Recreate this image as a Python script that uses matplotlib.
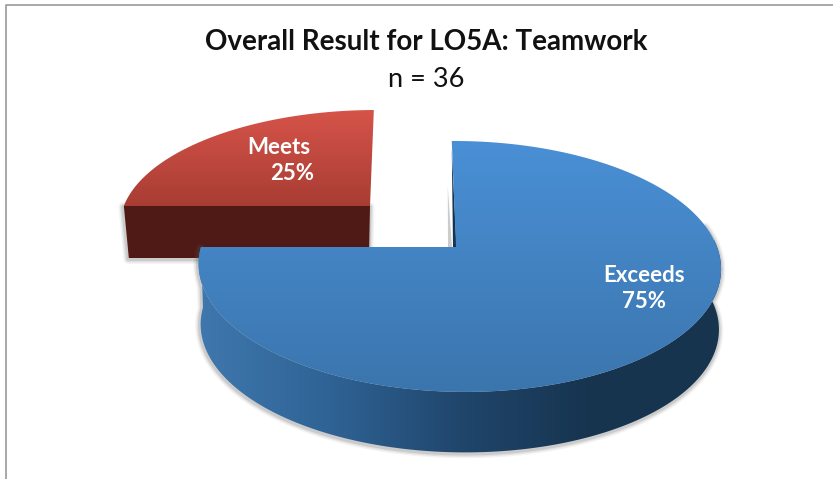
import numpy as np
import matplotlib
matplotlib.use('Agg')
import matplotlib.pyplot as plt
from matplotlib.colors import LinearSegmentedColormap
from matplotlib.patches import Polygon

labels = ['Exceeds', 'Meets']
shares = [75, 25]
title = 'Overall Result for LO5A: Teamwork'
subtitle = 'n = 36'

plt.rcParams['font.family'] = ['Lato', 'DejaVu Sans']


def rim(theta, cx, cy, k, h, shear, c=0.155, d=0.0115):
    # theta is clockwise from 12 o'clock, the plane is seen in perspective
    u, v = np.sin(theta), np.cos(theta)
    w = 1 + c * v - d * u
    y = -h * v / w
    return np.column_stack([cx + k * u / w + shear * y, cy + y])


def gradient(ax, patch, colors, box, vertical=True):
    cmap = LinearSegmentedColormap.from_list('g', colors)
    ramp = np.linspace(0, 1, 256)
    ramp = ramp.reshape(-1, 1) if vertical else ramp.reshape(1, -1)
    x0, x1, y0, y1 = box
    im = ax.imshow(ramp, cmap=cmap, extent=[x0, x1, y1, y0], aspect='auto',
                   zorder=patch.get_zorder(), origin='upper', interpolation='bilinear')
    im.set_clip_path(patch)


def soft_edge(ax, pts, z):
    for lw, a in [(7, 0.07), (5, 0.10), (3, 0.16)]:
        ax.add_patch(Polygon(pts + [-0.5, 1], closed=True, fill=False, edgecolor='#555555',
                             linewidth=lw, alpha=a, zorder=z, joinstyle='round'))


fig = plt.figure(figsize=(8.33, 4.79), dpi=100)
ax = fig.add_axes([0, 0, 1, 1])
ax.axis('off')

# frame of the pasted chart
ax.plot([6.5, 6.5, 833], [479, 5, 5], color='#9a9a9a', lw=1.2, zorder=1)

ang = np.cumsum([0] + shares) / sum(shares) * 2 * np.pi
blue_t = np.linspace(ang[0], ang[1], 240)
red_t = np.linspace(ang[1], ang[2], 80)

# red slice, pulled away from the pie
apex_r = np.array([370, 206])
red_rim = rim(red_t, apex_r[0], apex_r[1], 249, 96 * 1.155, -0.04)
red_left = red_rim[0]
wall = np.array([red_left, apex_r, apex_r + [-1, 52], red_left + [5, 52]])
soft_edge(ax, wall, 2)
ax.add_patch(Polygon(wall, closed=True, facecolor='#4f1a15', edgecolor='none', zorder=3))
red_face = Polygon(np.vstack([apex_r, red_rim]), closed=True, facecolor='none',
                   edgecolor='none', zorder=4)
ax.add_patch(red_face)
gradient(ax, red_face, ['#d7544a', '#a73c33'], (120, 380, 108, 208))

# blue slice
apex_b = np.array([456, 247])
blue_rim = rim(blue_t, apex_b[0], apex_b[1], 258, 106 * 1.155, 0.04)
front = (blue_t > np.radians(80)) & (blue_t <= np.radians(270))
top_front = blue_rim[front]
low_front = rim(blue_t[front], apex_b[0], apex_b[1] + 60.5, 258 * 0.992, 106 * 1.155, 0.04)
side = np.vstack([top_front, low_front[::-1]])
soft_edge(ax, side, 5)
side_patch = Polygon(side, closed=True, facecolor='none', edgecolor='none', zorder=6)
ax.add_patch(side_patch)
gradient(ax, side_patch, ['#3f78ae', '#2f6395', '#20466c', '#17344f', '#17344f'],
         (198, 722, 240, 456), vertical=False)

# thin cut wall next to the upper radius
top_pt = blue_rim[0]
ax.add_patch(Polygon([top_pt + [-4, 45], apex_b + [-8, 0], apex_b + [-4, 0]], closed=True,
                     facecolor='#8f8f8f', alpha=0.45, edgecolor='none', zorder=6))
ax.add_patch(Polygon([top_pt + [0, 8], apex_b + [-3, 0], apex_b + [0.5, 0]], closed=True,
                     facecolor='#17344f', edgecolor='none', zorder=6))

blue_face = Polygon(np.vstack([apex_b, blue_rim]), closed=True, facecolor='none',
                    edgecolor='none', zorder=7)
ax.add_patch(blue_face)
gradient(ax, blue_face, ['#4a90d6', '#3b75ad'], (190, 725, 139, 394))

# texts
ax.text(426, 42, title, ha='center', va='center', fontsize=20, fontweight='bold', color='#111111', zorder=10)
ax.text(426, 79, subtitle, ha='center', va='center', fontsize=19.5, color='#111111', zorder=10)

name_pos = [(644, 275), (278.5, 147)]
share_pos = [(644, 302), (292, 174)]
for name, share, p1, p2 in zip(labels, shares, name_pos, share_pos):
    ax.text(p1[0], p1[1], name, ha='center', va='center', fontsize=16, fontweight='bold', color='white', zorder=10)
    ax.text(p2[0], p2[1], f'{share}%', ha='center', va='center', fontsize=16, fontweight='bold',
            color='white', zorder=10)

ax.set_xlim(0, 833)
ax.set_ylim(479, 0)
fig.savefig('out.png', dpi=100)
